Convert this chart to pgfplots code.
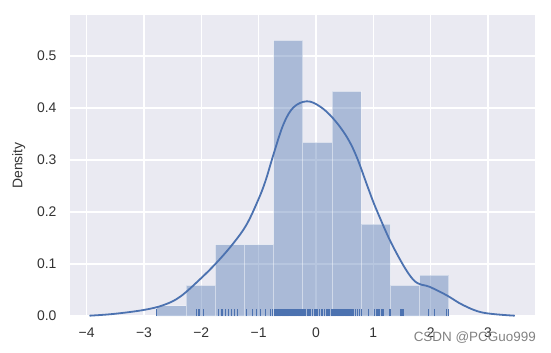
\documentclass[border=0pt]{standalone}
\usepackage{pgfplots}
\pgfplotsset{compat=1.18}
\usepackage{fontspec}
\setmainfont{Liberation Sans}
\definecolor{sbblue}{HTML}{4C72B0}
\definecolor{sbbg}{HTML}{EAEAF2}
\definecolor{sbtext}{HTML}{333333}
\begin{document}
\begin{tikzpicture}[font=\fontsize{14}{16}\selectfont]
\path[use as bounding box] (-70bp,-37bp) rectangle (481bp,316bp);
\begin{axis}[
  name=ax,
  at={(0,0)}, anchor=south west,
  scale only axis, width=465bp, height=301bp,
  xmin=-4.29, xmax=3.82, ymin=0, ymax=0.579,
  axis background/.style={fill=sbbg},
  axis line style={draw=none},
  major tick length=0pt,
  grid=major,
  major grid style={white, line width=1.2bp},
  xtick={-4,-3,-2,-1,0,1,2,3},
  xticklabels={−4,−3,−2,−1,0,1,2,3},
  ytick={0,0.1,0.2,0.3,0.4,0.5},
  yticklabels={0.0,0.1,0.2,0.3,0.4,0.5},
  tick label style={text=sbtext, font=\fontsize{14}{16}\selectfont},
  xticklabel style={yshift=-8bp},
  yticklabel style={xshift=-10bp},
  ylabel={Density},
  every axis y label/.append style={at={(axis description cs:-0.11,0.5)}, anchor=center},
  label style={text=sbtext, font=\fontsize{14}{16}\selectfont},
  clip=false,
]
% histogram (100 samples, bin width 0.5092, density)
\addplot[ybar interval, fill=sbblue, fill opacity=0.4, draw=white, draw opacity=0.45, line width=0.8bp]
coordinates {
(-2.7750,0.01964) (-2.2658,0.05892) (-1.7566,0.13747) (-1.2474,0.13747)
(-0.7382,0.53024) (-0.2290,0.33386) (0.2802,0.43205) (0.7894,0.17675)
(1.2986,0.05892) (1.8078,0.07855) (2.3170,0.07855)
};
% KDE
\addplot[sbblue, line width=1.8bp, smooth, tension=0.6] coordinates {
(-3.95,0.0006) (-3.53,0.004) (-3.01,0.0115) (-2.66,0.021) (-2.37,0.037)
(-2.02,0.071) (-1.73,0.103) (-1.44,0.140) (-1.21,0.176) (-1.005,0.224)
(-0.88,0.260) (-0.743,0.310) (-0.57,0.368) (-0.395,0.401) (-0.16,0.413)
(0.07,0.403) (0.30,0.380) (0.535,0.345) (0.71,0.306) (0.91,0.246)
(1.057,0.204) (1.347,0.133) (1.695,0.070) (1.986,0.056) (2.277,0.040)
(2.566,0.021) (2.915,0.0064) (3.467,0.0006)
};
% rug
\addplot[ycomb, sbblue, line width=1.2bp, mark=none] coordinates {
(-2.775,0.014)
(-2.08,0.014) (-2.04,0.014) (-1.96,0.014)
(-1.70,0.014) (-1.64,0.014) (-1.58,0.014) (-1.53,0.014) (-1.47,0.014) (-1.42,0.014) (-1.37,0.014)
(-1.21,0.014) (-1.11,0.014) (-1.04,0.014) (-0.97,0.014) (-0.88,0.014) (-0.80,0.014) (-0.76,0.014)
(-0.73,0.014) (-0.71,0.014) (-0.69,0.014) (-0.67,0.014) (-0.65,0.014) (-0.63,0.014) (-0.61,0.014)
(-0.59,0.014) (-0.57,0.014) (-0.55,0.014) (-0.53,0.014) (-0.51,0.014) (-0.49,0.014) (-0.47,0.014)
(-0.45,0.014) (-0.43,0.014) (-0.41,0.014) (-0.39,0.014) (-0.37,0.014) (-0.35,0.014) (-0.33,0.014)
(-0.31,0.014) (-0.29,0.014) (-0.27,0.014) (-0.25,0.014) (-0.24,0.014) (-0.23,0.014)
(-0.21,0.014) (-0.18,0.014) (-0.15,0.014) (-0.12,0.014) (-0.09,0.014) (-0.06,0.014) (-0.03,0.014)
(0.00,0.014) (0.03,0.014) (0.06,0.014) (0.09,0.014) (0.12,0.014) (0.15,0.014) (0.18,0.014)
(0.21,0.014) (0.24,0.014) (0.27,0.014)
(0.29,0.014) (0.31,0.014) (0.33,0.014) (0.35,0.014) (0.37,0.014) (0.39,0.014) (0.41,0.014)
(0.43,0.014) (0.45,0.014) (0.47,0.014) (0.49,0.014) (0.51,0.014) (0.53,0.014) (0.55,0.014)
(0.57,0.014) (0.59,0.014) (0.61,0.014) (0.63,0.014) (0.66,0.014) (0.69,0.014) (0.72,0.014) (0.76,0.014)
(0.80,0.014) (0.91,0.014) (1.02,0.014) (1.05,0.014) (1.08,0.014) (1.11,0.014) (1.14,0.014) (1.17,0.014) (1.29,0.014)
(1.47,0.014) (1.50,0.014) (1.53,0.014)
(1.96,0.014) (2.07,0.014) (2.28,0.014) (2.317,0.014)
};
\end{axis}
\node[anchor=east, text={rgb,255:red,130;green,130;blue,130}, inner sep=0pt, font=\fontsize{13.5}{15}\selectfont]
  at ([xshift=1bp,yshift=-21.7bp]ax.south east) {CSDN @PCGuo999};
\end{tikzpicture}
\end{document}
